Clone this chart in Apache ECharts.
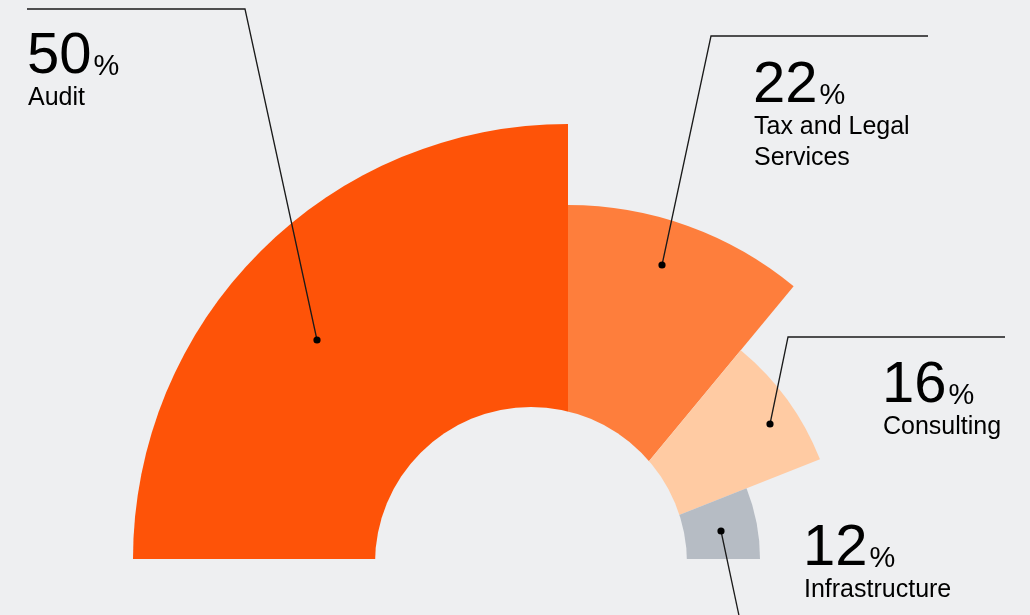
<!DOCTYPE html>
<html>
<head>
<meta charset="utf-8">
<script src="https://cdn.jsdelivr.net/npm/echarts@6/dist/echarts.min.js"></script>
<style>
html,body{margin:0;padding:0;background:#eeeff1;}
#chart{width:1030px;height:615px;}
</style>
</head>
<body>
<div id="chart"></div>
<script>
// ---- data ----
const categories = ['Audit', 'Tax and Legal Services', 'Consulting', 'Infrastructure'];
const shares = [50, 22, 16, 12];
const unit = '%';

// ---- style ----
const colors = ['#fe5308', '#fe7e3c', '#ffcba3', '#b6bcc4'];
const outerRadii = [435, 354, 271, 192];
const bg = '#eeeff1';
const FONT = '"Liberation Sans", Arial, Helvetica, sans-serif';
const NUM_SIZE = 58, PCT_SIZE = 29, NAME_SIZE = 25, NAME_LH = 31;
// label anchor: [x, baseline of number]
const labelPos = [[27, 77], [753, 106], [882, 406], [803, 569]];
const leaderLines = [
  [[27, 9], [245, 9], [317, 340]],
  [[928, 36], [711, 36], [662, 265]],
  [[1005, 337], [788, 337], [770, 424]],
  [[721, 531], [741, 625]]
];
const pieCenter = [568, 559];
const hole = {cx: 531, cy: 563, r: 156};

const chart = echarts.init(document.getElementById('chart'), null, {renderer: 'canvas'});

const series = shares.map((v, i) => ({
  type: 'pie',
  center: pieCenter,
  radius: [0, outerRadii[i]],
  startAngle: 180,
  endAngle: 0,
  clockwise: true,
  silent: true,
  label: {show: false},
  labelLine: {show: false},
  emphasis: {disabled: true},
  itemStyle: {borderWidth: 0},
  z: 2 + i,
  data: categories.map((c, j) => ({
    name: c,
    value: shares[j],
    itemStyle: {color: j === i ? colors[i] : 'rgba(0,0,0,0)'}
  }))
}));

// text measuring
const cv = document.createElement('canvas').getContext('2d');
function measure(t, size) { cv.font = size + 'px ' + FONT; return cv.measureText(t).width; }
const MID = 0.3465; // baseline offset for 'middle'

const graphics = [{
  type: 'circle', z: 100, silent: true,
  shape: {cx: hole.cx, cy: hole.cy, r: hole.r},
  style: {fill: bg}
}];

categories.forEach((c, i) => {
  const [x, b] = labelPos[i];
  const numTxt = String(shares[i]);
  const w = measure(numTxt, NUM_SIZE);
  graphics.push({
    type: 'text', z: 200, silent: true, x: x, y: b - MID * NUM_SIZE,
    style: {text: numTxt, fontSize: NUM_SIZE, fontFamily: FONT, fill: '#000', verticalAlign: 'middle', align: 'left'}
  });
  graphics.push({
    type: 'text', z: 200, silent: true, x: x + w + 2, y: b - MID * PCT_SIZE,
    style: {text: unit, fontSize: PCT_SIZE, fontFamily: FONT, fill: '#000', verticalAlign: 'middle', align: 'left'}
  });
  graphics.push({
    type: 'text', z: 200, silent: true, x: x + 1, y: b + 30 - NAME_LH / 2 - MID * NAME_SIZE,
    style: {text: c, fontSize: NAME_SIZE, fontFamily: FONT, fill: '#000', verticalAlign: 'top', align: 'left',
      lineHeight: NAME_LH, width: 175, overflow: 'break'}
  });
  graphics.push({
    type: 'polyline', z: 150, silent: true,
    shape: {points: leaderLines[i]},
    style: {stroke: '#1a1a1a', lineWidth: 1.3, fill: null}
  });
  const d = i === 3 ? leaderLines[i][0] : leaderLines[i][leaderLines[i].length - 1];
  graphics.push({
    type: 'circle', z: 160, silent: true,
    shape: {cx: d[0], cy: d[1], r: 3.6},
    style: {fill: '#000'}
  });
});

chart.setOption({
  backgroundColor: bg,
  animation: false,
  series: series,
  graphic: graphics
});
</script>
</body>
</html>
